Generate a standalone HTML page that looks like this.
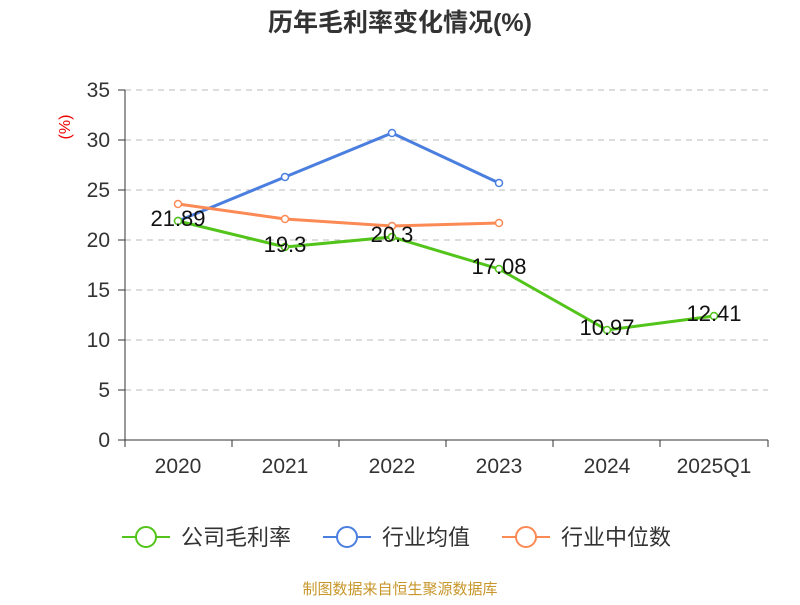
<!DOCTYPE html>
<html><head><meta charset="utf-8"><style>body{margin:0;background:#fff}</style></head><body>
<svg width="800" height="600" xmlns="http://www.w3.org/2000/svg" font-family="Liberation Sans, Noto Sans CJK SC, sans-serif">
<text x="400" y="31" text-anchor="middle" font-size="25" font-weight="bold" fill="#333">历年毛利率变化情况(%)</text>
<text x="70" y="127" text-anchor="middle" font-size="16" fill="#e00" transform="rotate(-90 70 127)">(%)</text>
<g stroke="#bbb" stroke-dasharray="6,5">
<line x1="125" x2="768" y1="90" y2="90"/><line x1="125" x2="768" y1="140" y2="140"/><line x1="125" x2="768" y1="190" y2="190"/><line x1="125" x2="768" y1="240" y2="240"/><line x1="125" x2="768" y1="290" y2="290"/><line x1="125" x2="768" y1="340" y2="340"/><line x1="125" x2="768" y1="390" y2="390"/>
</g>
<g stroke="#333"><line x1="125" x2="125" y1="90" y2="440"/><line x1="125" x2="768" y1="440" y2="440"/>
<line x1="118" x2="125" y1="90" y2="90"/><line x1="118" x2="125" y1="140" y2="140"/><line x1="118" x2="125" y1="190" y2="190"/><line x1="118" x2="125" y1="240" y2="240"/><line x1="118" x2="125" y1="290" y2="290"/><line x1="118" x2="125" y1="340" y2="340"/><line x1="118" x2="125" y1="390" y2="390"/><line x1="118" x2="125" y1="440" y2="440"/>
<line x1="125" x2="125" y1="440" y2="447"/><line x1="232" x2="232" y1="440" y2="447"/><line x1="339" x2="339" y1="440" y2="447"/><line x1="446" x2="446" y1="440" y2="447"/><line x1="553" x2="553" y1="440" y2="447"/><line x1="660" x2="660" y1="440" y2="447"/><line x1="768" x2="768" y1="440" y2="447"/></g>
<g font-size="21" fill="#333" text-anchor="end">
<text x="110" y="97">35</text><text x="110" y="147">30</text><text x="110" y="197">25</text><text x="110" y="247">20</text><text x="110" y="297">15</text><text x="110" y="347">10</text><text x="110" y="397">5</text><text x="110" y="447">0</text></g>
<g font-size="21" fill="#333" text-anchor="middle">
<text x="178" y="473">2020</text><text x="285" y="473">2021</text><text x="392" y="473">2022</text><text x="499" y="473">2023</text><text x="607" y="473">2024</text><text x="714" y="473">2025Q1</text></g>
<polyline points="178,221 285,177 392,133 499,183" fill="none" stroke="#4a7fe0" stroke-width="3"/>
<polyline points="178,204 285,219 392,226 499,223" fill="none" stroke="#fb8a55" stroke-width="3"/>
<polyline points="178,221 285,247 392,237 499,269 607,330 714,316" fill="none" stroke="#52c41a" stroke-width="3"/>
<g fill="#fff" stroke-width="1.5">
<g stroke="#4a7fe0"><circle cx="178" cy="221" r="3.5"/><circle cx="285" cy="177" r="3.5"/><circle cx="392" cy="133" r="3.5"/><circle cx="499" cy="183" r="3.5"/></g>
<g stroke="#fb8a55"><circle cx="178" cy="204" r="3.5"/><circle cx="285" cy="219" r="3.5"/><circle cx="392" cy="226" r="3.5"/><circle cx="499" cy="223" r="3.5"/></g>
<g stroke="#52c41a"><circle cx="178" cy="221" r="3.5"/><circle cx="285" cy="247" r="3.5"/><circle cx="392" cy="237" r="3.5"/><circle cx="499" cy="269" r="3.5"/><circle cx="607" cy="330" r="3.5"/><circle cx="714" cy="316" r="3.5"/></g></g>
<g font-size="22" fill="#111" text-anchor="middle">
<text x="178" y="226">21.89</text><text x="285" y="252">19.3</text><text x="392" y="242">20.3</text><text x="499" y="274">17.08</text><text x="607" y="335">10.97</text><text x="714" y="321">12.41</text></g>
<g stroke-width="2" fill="#fff">
<line x1="122" x2="170" y1="537" y2="537" stroke="#52c41a"/><circle cx="146" cy="537" r="10" stroke="#52c41a"/>
<line x1="323" x2="371" y1="537" y2="537" stroke="#4a7fe0"/><circle cx="347" cy="537" r="10" stroke="#4a7fe0"/>
<line x1="502" x2="550" y1="537" y2="537" stroke="#fb8a55"/><circle cx="526" cy="537" r="10" stroke="#fb8a55"/></g>
<g font-size="22" fill="#333"><text x="181" y="545">公司毛利率</text><text x="382" y="545">行业均值</text><text x="561" y="545">行业中位数</text></g>
<text x="400" y="594" text-anchor="middle" font-size="15" fill="#c8962a">制图数据来自恒生聚源数据库</text>
</svg></body></html>
